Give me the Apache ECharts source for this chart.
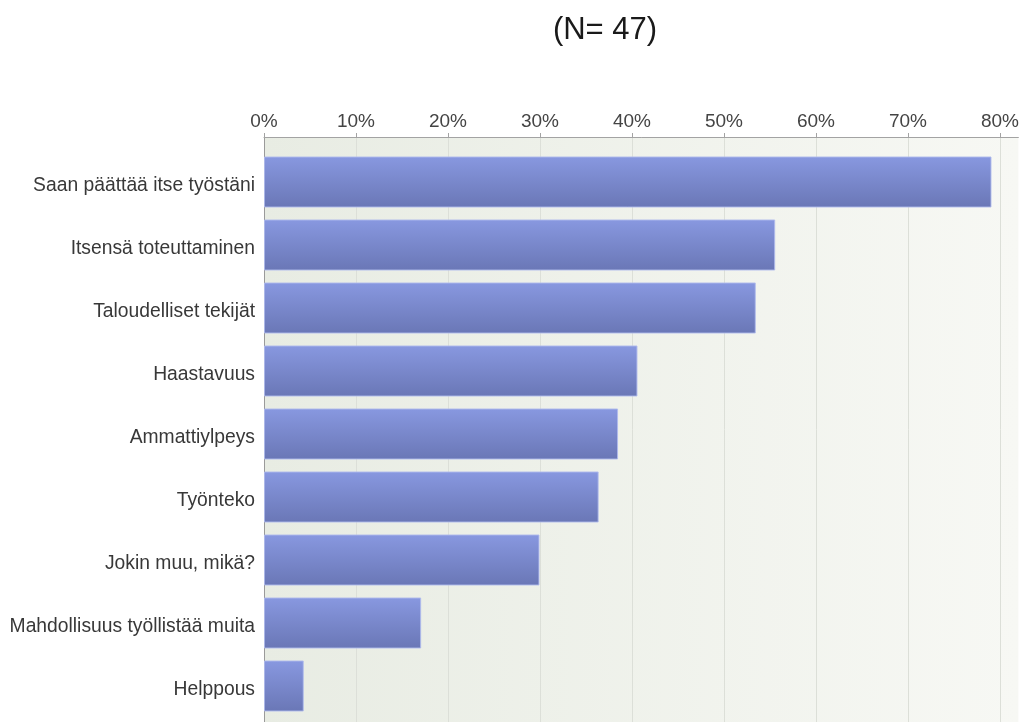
<!DOCTYPE html>
<html>
<head>
<meta charset="utf-8">
<script src="https://cdn.jsdelivr.net/npm/echarts@6/dist/echarts.min.js"></script>
<style>
html,body{margin:0;padding:0;background:#fff;overflow:hidden;}
#chart{width:1022px;height:722px;}
</style>
</head>
<body>
<div id="chart"></div>
<script>
const titleText = '(N= 47)';
const categories = [
  'Saan päättää itse työstäni',
  'Itsensä toteuttaminen',
  'Taloudelliset tekijät',
  'Haastavuus',
  'Ammattiylpeys',
  'Työnteko',
  'Jokin muu, mikä?',
  'Mahdollisuus työllistää muita',
  'Helppous'
];
const percentValues = [78.7, 55.3, 53.2, 40.4, 38.3, 36.2, 29.8, 17.0, 4.3];
const tickValues = [0, 10, 20, 30, 40, 50, 60, 70, 80];

const FONT = '"Liberation Sans", Arial, sans-serif';
const AXIS_MAX = 82;

const chart = echarts.init(document.getElementById('chart'), null, {renderer: 'canvas', width: 1022, height: 722});
chart.setOption({
  animation: false,
  backgroundColor: '#ffffff',
  title: {
    text: titleText,
    left: 605,
    textAlign: 'center',
    top: 15,
    padding: 0,
    textStyle: {fontFamily: FONT, fontSize: 31, fontWeight: 'normal', color: '#1a1a1a'}
  },
  grid: [
    {left: 264, width: 758, top: 150.5, height: 567, containLabel: false},
    {left: 264, width: 758, top: 137, height: 594, show: true, borderWidth: 0,
     backgroundColor: {type: 'linear', x: 0, y: 0, x2: 1, y2: 0,
       colorStops: [{offset: 0, color: '#e8ece3'}, {offset: 1, color: '#f7f8f4'}]},
     z: 0}
  ],
  xAxis: [
    {gridIndex: 0, type: 'value', min: 0, max: AXIS_MAX, interval: 10, show: false},
    {gridIndex: 1, type: 'value', position: 'top', min: 0, max: AXIS_MAX, interval: 10,
     axisLine: {show: true, lineStyle: {color: '#a3a3a3', width: 1}},
     axisTick: {show: true, length: 4, lineStyle: {color: '#a3a3a3'}, customValues: tickValues},
     axisLabel: {show: true, margin: 6, color: '#444', fontFamily: FONT, fontSize: 19,
       customValues: tickValues,
       formatter: function (v) { return v + '%'; }},
     splitLine: {show: true, lineStyle: {color: '#dcdfd8', width: 1}}}
  ],
  yAxis: [
    {gridIndex: 0, type: 'category', data: categories, inverse: true,
     axisLine: {show: false}, axisTick: {show: false},
     axisLabel: {margin: 9, color: '#383838', fontFamily: FONT, fontSize: 19.3,
       verticalAlign: 'top', lineHeight: 8}},
    {gridIndex: 1, type: 'value', min: 0, max: 1, inverse: true,
     axisLine: {show: true, lineStyle: {color: '#9a9a9a', width: 1}},
     axisTick: {show: false}, axisLabel: {show: false}, splitLine: {show: false}}
  ],
  series: [{
    type: 'bar',
    xAxisIndex: 0,
    yAxisIndex: 0,
    data: percentValues,
    barWidth: '81%',
    z: 5,
    itemStyle: {
      color: {type: 'linear', x: 0, y: 0, x2: 0, y2: 1,
        colorStops: [{offset: 0, color: '#8898e0'}, {offset: 1, color: '#6a77b6'}]},
      borderColor: 'rgba(175,186,236,0.9)',
      borderWidth: 1
    }
  }]
});
</script>
</body>
</html>
